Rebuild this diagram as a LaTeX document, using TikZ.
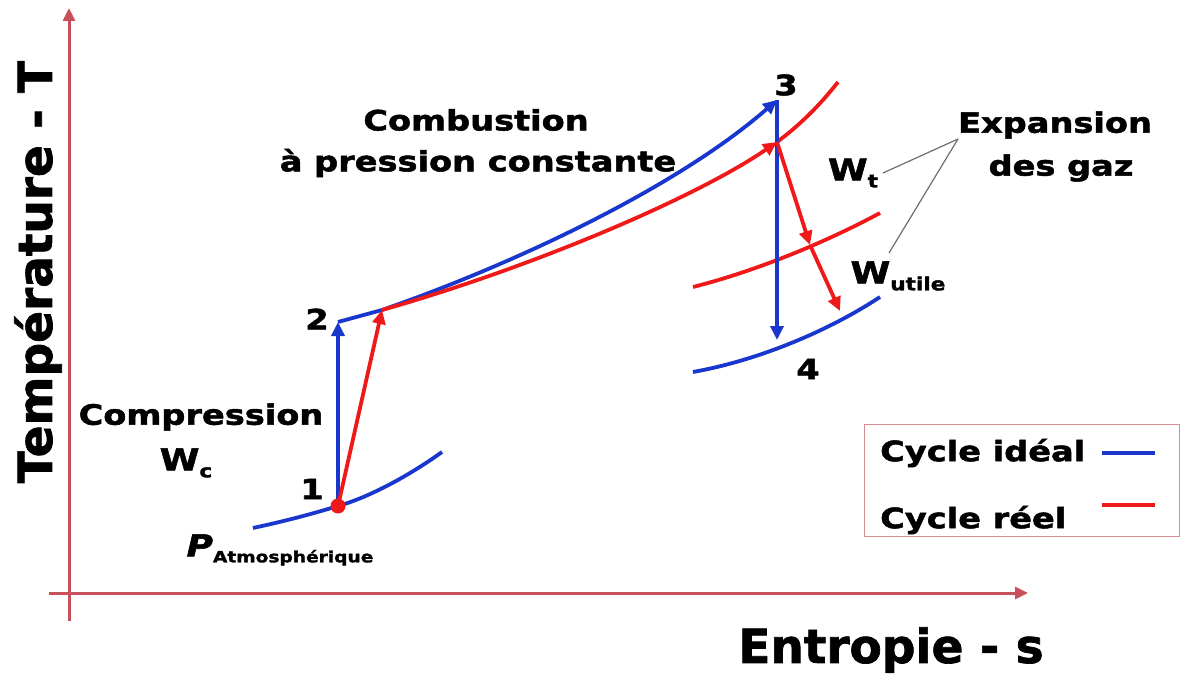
\documentclass[tikz,border=0pt]{standalone}
\usepackage{fontspec}
\setmainfont{DejaVu Sans}[BoldFeatures={FakeBold=1.5}]
\newfontfamily\lf{DejaVu Sans}[FakeStretch=1.2, BoldFeatures={FakeBold=1.8}, BoldItalicFeatures={FakeBold=1.8}]
\usetikzlibrary{arrows.meta}
\definecolor{axisred}{RGB}{200,80,90}
\definecolor{cblue}{RGB}{25,55,205}
\definecolor{cred}{RGB}{240,25,25}
\definecolor{legpink}{RGB}{215,140,150}
\definecolor{leadgray}{RGB}{110,110,110}
\begin{document}
\begin{tikzpicture}[x=1pt,y=-1pt,
  axisline/.style={axisred, line width=3pt, -{Triangle[length=13pt,width=12pt]}},
  bline/.style={cblue, line width=3.8pt},
  rline/.style={cred, line width=3.8pt},
  tip/.style={-{Triangle[length=14pt,width=13pt]}},
  bigtxt/.style={font=\bfseries\fontsize{47}{50}\selectfont, inner sep=0pt},
  txt/.style={font=\lf\bfseries\fontsize{28}{32}\selectfont, inner sep=0pt, align=center},
  wtxt/.style={font=\lf\bfseries\fontsize{30}{32}\selectfont, inner sep=0pt},
  leader/.style={leadgray, line width=1.2pt}
]
\useasboundingbox (0,0) rectangle (1181,677);
\newcommand{\subs}[1]{\raisebox{-7pt}{\fontsize{18}{18}\selectfont #1}}

% axes
\coordinate (yb) at (69,621);
\coordinate (yt) at (69,8);
\coordinate (xl) at (49,593);
\coordinate (xr) at (1028,593);
\draw[axisline] (yb) -- (yt);
\draw[axisline] (xl) -- (xr);
\node[bigtxt, rotate=90] (ylab) at (38,272) {Température - T};
\node[bigtxt] (xlab) at (891,650) {Entropie - s};

% cycle points
\coordinate (p1) at (338,506);
\coordinate (p2) at (338,322);
\coordinate (p2r) at (382,310);
\coordinate (p3) at (777,100);
\coordinate (p3r) at (777,142);
\coordinate (p4) at (777,340);
\coordinate (pm) at (810,245);
\coordinate (p4r) at (840,311);

% isobars
\coordinate (ib0) at (253,528);
\coordinate (ib1) at (442,452);
\draw[bline] (ib0) .. controls (290,520) and (315,513) .. (p1)
  .. controls (370,497) and (410,475) .. (ib1);
\coordinate (it1) at (838,82);
\draw[rline] (p3r) .. controls (800,125) and (820,105) .. (it1);
\coordinate (im0) at (693,287);
\coordinate (im1) at (880,213);
\draw[rline] (im0) .. controls (760,270) and (830,240) .. (im1);
\coordinate (ibb0) at (693,372);
\coordinate (ibb1) at (880,297);
\draw[bline] (ibb0) .. controls (760,360) and (830,330) .. (ibb1);

% ideal cycle
\draw[bline, tip] (p1) -- (p2);
\draw[bline, tip] (p2) -- (p2r) .. controls (520,262) and (680,185) .. (p3);
\draw[bline, tip] (p3) -- (p4);

% real cycle
\draw[rline, tip] (p1) -- (p2r);
\draw[rline, tip] (p2r) .. controls (540,265) and (700,195) .. (p3r);
\draw[rline, tip] (p3r) -- (pm);
\draw[rline, tip] (pm) -- (p4r);
\node[circle, fill=cred, minimum size=15pt, inner sep=0pt] (dot1) at (p1) {};

% point labels
\node[txt] (l1) at (312,489) {1};
\node[txt] (l2) at (317,319) {2};
\node[txt] (l3) at (786,85) {3};
\node[txt] (l4) at (808,369) {4};

% texts
\node[txt] (comb) at (476,120) {Combustion};
\node[txt] (press) at (478,163) {à pression constante};
\node[txt] (compr) at (201,417) {Compression};
\node[wtxt] (wc) at (186,463) {W\subs{c}};
\node[wtxt] (wt) at (853,173) {W\subs{t}};
\node[wtxt] (wu) at (898,276) {W\subs{utile}};
\node[inner sep=0pt] (patm) at (280,550) {\lf\bfseries{\itshape\fontsize{30}{32}\selectfont P}\raisebox{-6pt}{\fontsize{15.5}{16}\selectfont Atmosphérique}};
\node[txt] (exp1) at (1055,125) {Expansion};
\node[txt] (exp2) at (1061,168) {des gaz};

% leaders
\coordinate (ex) at (958,139);
\coordinate (wtend) at (883,173);
\coordinate (wuend) at (889,253);
\draw[leader] (ex) -- (wtend);
\draw[leader] (ex) -- (wuend);

% legend
\node[draw=legpink, line width=1pt, minimum width=315pt, minimum height=112pt, inner sep=0pt] (leg) at (1022,480) {};
\node[txt, anchor=west] (lid) at (880,453) {Cycle idéal};
\node[txt, anchor=west] (lre) at (880,520) {Cycle réel};
\coordinate (lb0) at (1102,453);
\coordinate (lb1) at (1155,453);
\coordinate (lr0) at (1102,505);
\coordinate (lr1) at (1155,505);
\draw[bline] (lb0) -- (lb1);
\draw[rline] (lr0) -- (lr1);
\end{tikzpicture}
\end{document}
